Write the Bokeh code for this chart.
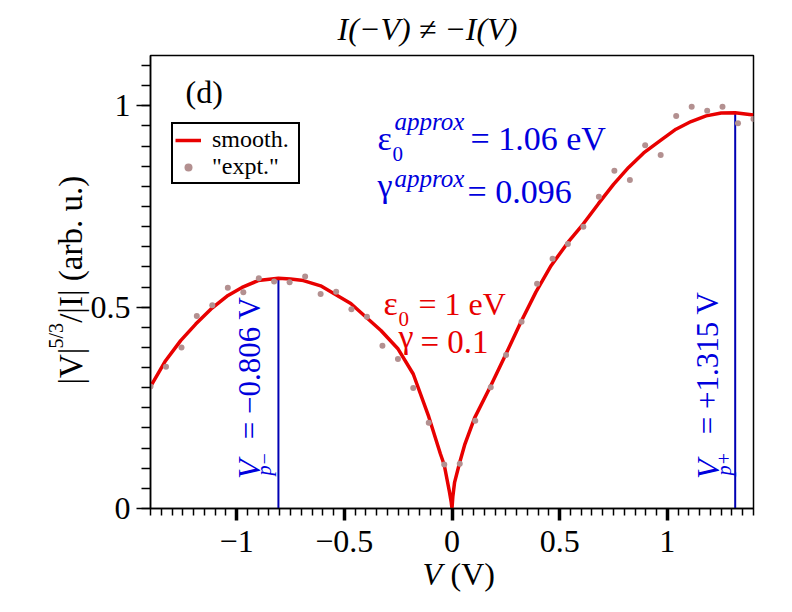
import math
from bokeh.plotting import figure
from bokeh.models import (Range1d, SingleIntervalTicker, CustomJSTickFormatter,
                          Label, Legend, LegendItem)
from bokeh.embed import file_html
from bokeh.resources import INLINE

# ---------------- data ----------------
smooth_v = [-1.40, -1.33, -1.26, -1.19, -1.12, -1.04, -0.975, -0.90, -0.806, -0.75,
            -0.69, -0.61, -0.47, -0.33, -0.25, -0.18, -0.108, -0.054, -0.036, -0.023,
            -0.012, -0.004, 0.0, 0.004, 0.012, 0.036, 0.06, 0.105, 0.18, 0.25,
            0.32, 0.39, 0.46, 0.54, 0.61, 0.68, 0.75, 0.82, 0.89, 0.97,
            1.04, 1.11, 1.18, 1.25, 1.315, 1.40]
smooth_y = [0.303, 0.367, 0.417, 0.458, 0.495, 0.529, 0.549, 0.566, 0.572, 0.570,
            0.566, 0.553, 0.509, 0.442, 0.396, 0.334, 0.228, 0.136, 0.108, 0.072,
            0.042, 0.017, 0.0, 0.03, 0.065, 0.115, 0.160, 0.225, 0.305, 0.383,
            0.463, 0.538, 0.603, 0.662, 0.707, 0.757, 0.805, 0.847, 0.883, 0.915,
            0.942, 0.961, 0.975, 0.982, 0.983, 0.977]

expt_v = [-1.400, -1.328, -1.256, -1.185, -1.113, -1.041, -0.969, -0.897, -0.826, -0.754,
          -0.682, -0.610, -0.538, -0.467, -0.395, -0.323, -0.251, -0.180, -0.108, -0.036,
          0.036, 0.108, 0.180, 0.251, 0.323, 0.395, 0.467, 0.538, 0.610, 0.682,
          0.754, 0.826, 0.897, 0.969, 1.041, 1.113, 1.185, 1.256, 1.328, 1.400]
expt_y = [0.303, 0.352, 0.400, 0.478, 0.505, 0.548, 0.537, 0.572, 0.564, 0.562,
          0.576, 0.533, 0.538, 0.495, 0.476, 0.404, 0.371, 0.299, 0.213, 0.109,
          0.111, 0.218, 0.301, 0.381, 0.464, 0.558, 0.620, 0.657, 0.700, 0.774,
          0.839, 0.816, 0.902, 0.878, 0.975, 0.998, 0.988, 0.998, 0.957, 0.967]

peak_v = [-0.806, 1.315]
peak_y = [0.572, 0.983]
peak_base = [0.0, 0.0]

# ---------------- layout helpers ----------------
FONT = "Liberation Serif"
RED = "#e80000"
BLUE = "#0000dd"
X0, X1 = -1.4, 1.4
Y0, Y1 = 0.0, 1.125
FL, FR, FT, FB = 150, 753, 55, 508   # frame edges in page pixels


def dx(sx):
    return X0 + (sx - FL) * (X1 - X0) / (FR - FL)


def dy(sy):
    return Y0 + (FB - sy) * (Y1 - Y0) / (FB - FT)


p = figure(frame_width=FR - FL, frame_height=FB - FT,
           x_range=Range1d(X0, X1), y_range=Range1d(Y0, Y1),
           output_backend="svg", toolbar_location=None,
           min_border_left=FL, min_border_right=31,
           min_border_top=FT, min_border_bottom=100,
           title="I(\u2212V) \u2260 \u2212I(V)")

p.background_fill_color = "white"
p.border_fill_color = "white"
p.grid.visible = False
p.outline_line_color = "black"
p.outline_line_width = 1.5
p.outline_line_alpha = 1.0

p.title.text_font = FONT
p.title.text_font_size = "32px"
p.title.text_font_style = "italic"
p.title.text_color = "black"
p.title.align = "left"
p.title.offset = 187
p.title.standoff = 17

fmt = CustomJSTickFormatter(code="return tick < 0 ? '\\u2212' + Math.abs(tick) : '' + tick;")
for ax in (p.xaxis[0], p.yaxis[0]):
    ax.ticker = SingleIntervalTicker(interval=0.5, num_minor_ticks=10)
    ax.formatter = fmt
    ax.major_label_text_font = FONT
    ax.major_label_text_font_size = "32px"
    ax.major_label_text_color = "black"
    ax.axis_line_width = 1.5
    ax.axis_line_color = "black"
    ax.major_tick_in = 0
    ax.minor_tick_in = 0
    ax.minor_tick_line_width = 1.5
    ax.axis_label = None

p.xaxis.major_tick_out = 12
p.xaxis.minor_tick_out = 7
p.xaxis.major_tick_line_width = 3.5
p.xaxis.major_label_standoff = 10
p.yaxis.major_tick_out = 14
p.yaxis.minor_tick_out = 9
p.yaxis.major_tick_line_width = 1.5
p.yaxis.major_label_standoff = 6

# ---------------- marks ----------------
p.segment(x0=peak_v, y0=peak_base, x1=peak_v, y1=peak_y, line_color="#0000b4", line_width=2)
r_line = p.line(smooth_v, smooth_y, line_color=RED, line_width=3.5)
r_dots = p.scatter(expt_v, expt_y, marker="circle", size=6, fill_color="#b39090",
                   line_color=None)

legend = Legend(items=[LegendItem(label="smooth.", renderers=[r_line]),
                       LegendItem(label='"expt."', renderers=[r_dots])],
                location=(21, 324), label_text_font=FONT, label_text_font_size="24px",
                label_text_color="black",
                border_line_color="black", border_line_width=2, border_line_alpha=1.0,
                padding=2, spacing=0, glyph_width=26, glyph_height=20,
                label_standoff=11, label_height=20, label_width=84, margin=0,
                background_fill_color="white", background_fill_alpha=1.0)
p.add_layout(legend)

UP = math.pi / 2
K = 0.3   # empirical baseline correction (fraction of font size)


def lab(text, sx, sy, size, color, style="normal", angle=0.0, place=None):
    if angle == 0.0:
        sy = sy - K * size
    else:
        sx = sx - K * size
        sy = sy - K * size
    label = Label(x=dx(sx), y=dy(sy), text=text, text_font=FONT,
                  text_font_size=f"{size}px", text_color=color,
                  text_font_style=style, angle=angle,
                  text_align="left", text_baseline="alphabetic")
    if place is None:
        p.add_layout(label)
    else:
        p.add_layout(label, place)


lab("(d)", 185, 101, 32, "black")

lab("\u03b5", 377, 148, 34, BLUE)
lab("0", 392, 160, 21, BLUE)
lab("approx", 394, 128, 25, BLUE, "italic")
lab("= 1.06 eV", 470, 148, 34, BLUE)
lab("\u03b3", 377, 195, 34, BLUE)
lab("approx", 394, 185, 25, BLUE, "italic")
lab("= 0.096", 467, 201.5, 34, BLUE)

lab("\u03b5", 383, 313, 34, RED)
lab("0", 398, 325, 21, RED)
lab("= 1 eV", 418, 313, 32, RED)
lab("\u03b3", 398, 346, 34, RED)
lab("= 0.1", 420, 351.5, 33, RED)

lab("V", 258, 488, 32, BLUE, "italic", UP)
lab("p\u2212", 269, 481, 20, BLUE, "italic", UP)
lab("= \u22120.806 V", 258, 448, 31, BLUE, "normal", UP)
lab("V", 716.7, 488, 32, BLUE, "italic", UP)
lab("p+", 729, 481, 20, BLUE, "italic", UP)
lab("= +1.315 V", 716.7, 443, 31, BLUE, "normal", UP)

# axis titles, placed in the side panels so that they are not clipped
lab("V", 422, 583, 32, "black", "italic", 0.0, "below")
lab("(V)", 450, 583, 32, "black", "normal", 0.0, "left")
lab("|V|\u00a0\u00a0\u00a0/|I| (arb. u.)", 80, 394, 33, "black", "normal", UP, "left")
lab("5/3", 61.7, 354, 20, "black", "normal", UP, "right")

open("out.html", "w").write(file_html(p, INLINE))
